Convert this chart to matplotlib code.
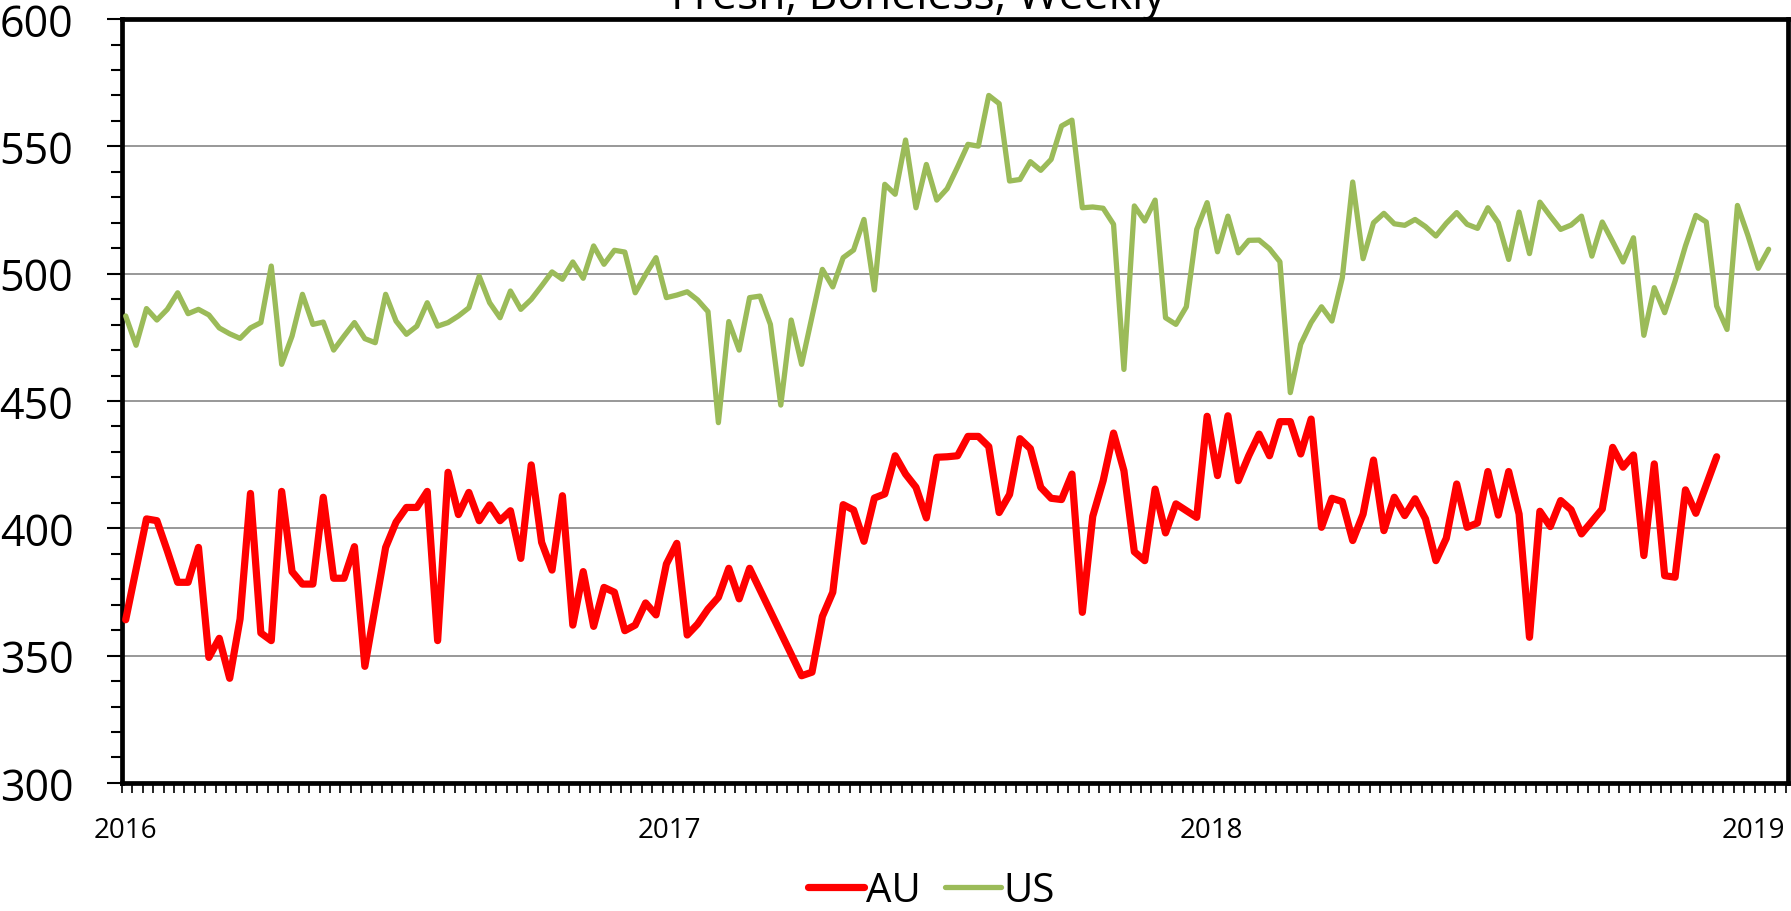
import numpy as np
import pandas as pd
import matplotlib
matplotlib.use("Agg")
import matplotlib.pyplot as plt
import matplotlib.dates as mdates
from matplotlib.ticker import MultipleLocator, FixedLocator

plt.rcParams['font.family'] = ['Open Sans', 'DejaVu Sans']

# Weekly prices (None = no visible point)
us_values = [
    483.4, 471.9, 486.3, 481.8, 486.0, 492.5, 484.3, 486.0, 483.8, 478.7,
    476.4, 474.6, 478.7, 480.8, 503.0, 464.4, 475.5, 491.9, 480.1, 481.0,
    470.0, 475.5, 480.8, 474.5, 472.9, 491.9, 481.4, 476.2, 479.4, 488.6,
    479.4, 480.8, 483.4, 486.6, 499.0, 488.6, 482.7, 493.2, 486.0, 489.9,
    495.2, 500.7, 497.8, 504.6, 498.2, 510.9, 503.7, 509.2, 508.5, 492.5,
    499.7, 506.3, 490.6, 491.6, 492.9, 489.7, 485.1, 441.5, 481.2, 470.0,
    490.6, 491.2, 480.1, 448.4, 481.8, 464.4, None, 501.7, 494.8, 506.3,
    509.3, 521.3, 493.6, 535.1, 531.2, 552.5, 525.9, 542.9, 528.9, 533.4,
    541.9, 550.8, 550.1, 570.0, 566.8, 536.4, 537.0, 544.0, 540.6, 544.9,
    558.0, 560.3, 525.9, 526.2, 525.7, 519.4, 462.4, 526.6, 520.7, 528.9,
    482.7, 480.1, 487.0, 517.4, 527.9, 508.6, 522.6, 508.2, 513.1, 513.2,
    509.8, 504.7, 453.3, 472.3, 480.8, 487.0, 481.4, 498.4, 536.0, 505.9,
    520.0, 523.7, 519.6, 519.0, 521.3, 518.5, 514.8, 519.8, 524.0, 519.4,
    517.8, 525.9, 520.0, 505.6, 524.2, 507.9, 528.1, 522.6, 517.4, 519.1,
    522.6, 506.9, 520.3, 512.6, 504.6, 514.1, 475.8, 494.5, 484.7, 497.1,
    510.9, 522.9, 520.3, 487.3, 478.1, 526.8, 515.1, 502.1, 509.6,
]

au_values = [
    364.1, None, 403.7, 403.0, 391.2, 378.8, 378.8, 392.5, 349.3, 356.8,
    341.1, 364.4, 413.7, 358.9, 355.9, 414.5, 383.0, 378.1, 378.1, 412.2,
    380.4, 380.4, 392.8, 345.8, None, 392.5, 402.4, 408.2, 408.2, 414.5,
    355.9, 422.0, 405.4, 414.1, 403.0, 409.2, 403.0, 406.9, 388.2, 424.9,
    394.5, 383.6, 412.8, 362.0, 383.0, 361.5, 376.8, 374.9, 359.8, 362.0,
    370.7, 366.0, 386.0, 394.1, 358.1, 362.4, 368.3, 372.9, 384.3, 372.3,
    384.3, None, None, None, None, 342.1, 343.5, 365.4, 374.9, 409.3,
    407.2, 394.9, 411.9, 413.5, 428.5, 421.3, 416.1, 404.1, 427.9, 428.1,
    428.5, 436.1, 436.1, 432.1, 406.2, 413.3, 435.2, 431.3, 416.1, 411.8,
    411.3, 421.3, 367.0, 404.7, 418.7, 437.4, 422.6, 390.8, 387.3, 415.4,
    398.2, 409.6, None, 404.3, 444.0, 420.7, 444.2, 418.7, 428.5, 437.0,
    428.5, 441.9, 441.9, 429.2, 442.9, 400.4, 411.8, 410.5, 395.2, 405.6,
    426.8, 399.1, 412.2, 405.0, 411.6, 403.7, 387.3, 396.1, 417.4, 400.4,
    402.1, 422.3, 405.2, 422.3, 405.6, 357.2, 406.7, 400.7, 410.9, 407.3,
    397.8, None, 407.6, 431.8, 424.0, 428.8, 389.3, 425.3, 381.4, 380.8,
    415.1, 405.9, None, 428.1,
]

year_labels = ['2016', '2017', '2018', '2019']

weeks = pd.date_range('2016-01-01', periods=len(us_values), freq='7D')

us = pd.Series(us_values, index=weeks, dtype=float).dropna()
au = pd.Series(au_values, index=weeks[:len(au_values)], dtype=float).dropna()

fig = plt.figure(figsize=(17.91, 9.12), dpi=100)
ax = fig.add_axes([0.0681, 0.1404, 0.9302, 0.8376])

ax.plot(au.index, au.values, color='#FF0000', lw=5.2, label='AU',
        solid_joinstyle='round', solid_capstyle='round', zorder=3)
ax.plot(us.index, us.values, color='#9BBB59', lw=3.8, label='US',
        solid_joinstyle='round', solid_capstyle='round', zorder=3)

# eje x
x0 = pd.Timestamp('2015-12-29 12:00')
x1 = pd.Timestamp('2019-01-24')
ax.set_xlim(x0, x1)
ax.xaxis.set_major_locator(FixedLocator(mdates.date2num(pd.to_datetime([y + '-01-01' for y in year_labels]))))
ax.set_xticklabels(year_labels)
ax.xaxis.set_minor_locator(FixedLocator(mdates.date2num(pd.date_range(x0, x1, freq='7D'))))
ax.tick_params(axis='x', which='major', length=0, pad=24, labelsize=20)
ax.tick_params(axis='x', which='minor', length=7, width=1.2, direction='out')

# eje y
ax.set_ylim(300, 600)
ax.yaxis.set_major_locator(MultipleLocator(50))
ax.yaxis.set_minor_locator(MultipleLocator(10))
ax.tick_params(axis='y', which='major', length=11, width=1.5, pad=24, labelsize=31)
ax.tick_params(axis='y', which='minor', length=8, width=1.5)
ax.yaxis.grid(True, which='major', color='#868686', lw=1.2, zorder=0)

for s in ax.spines.values():
    s.set_linewidth(3.4)
    s.set_color('black')

fig.text(0.5126, 0.990, 'Fresh, Boneless, Weekly', ha='center', va='baseline', fontsize=32)

fig.legend(loc='center', bbox_to_anchor=(0.52, 0.022), ncol=2, frameon=False,
           fontsize=29, handlelength=1.4, handletextpad=0.05, columnspacing=0.6)

fig.savefig('out.png', dpi=100)
